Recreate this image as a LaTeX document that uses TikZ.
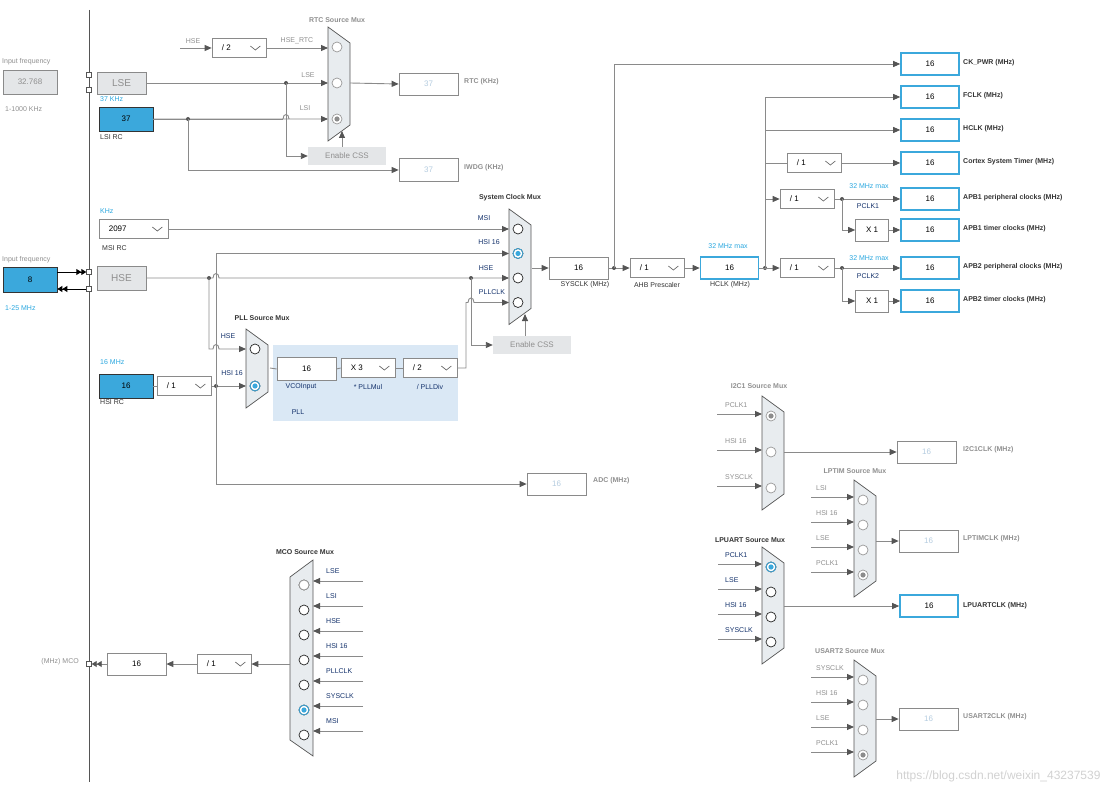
\documentclass[tikz,border=0pt]{standalone}
\usepackage{fontspec}
\setmainfont{Liberation Sans}
\usetikzlibrary{arrows.meta,calc}
\definecolor{wgray}{HTML}{8A8A8A}
\definecolor{agray}{HTML}{555555}
\definecolor{txtgray}{HTML}{8F8F8F}
\definecolor{navy}{HTML}{13316B}
\definecolor{tblue}{HTML}{2AA7DF}
\definecolor{fblue}{HTML}{3BA8DC}
\definecolor{pllbg}{HTML}{DAE8F5}
\definecolor{muxfill}{HTML}{E8ECEF}
\definecolor{boxfill}{HTML}{E4E6E8}
\definecolor{lighttxt}{HTML}{B5CCE0}
\definecolor{dark}{HTML}{333333}
\tikzset{
  wire/.style={draw=wgray, line width=0.9pt},
  arr/.style={wire, -{Triangle[length=7pt,width=6pt,color=agray]}},
  dot/.style={circle, fill=agray, inner sep=0, minimum size=4pt},
  lab/.style={font=\fontsize{7}{8}\selectfont, inner sep=1pt},
  tlab/.style={lab, font=\fontsize{7}{8}\selectfont\bfseries},
  rlab/.style={lab, font=\fontsize{7}{8}\selectfont\bfseries, color=dark, anchor=west},
  bx/.style={draw=wgray, line width=0.7pt, minimum height=22pt, inner sep=0, font=\fontsize{8}{9}\selectfont},
  wbox/.style={bx, fill=white, minimum width=59pt},
  lbox/.style={bx, fill=white, minimum width=59pt, text=lighttxt},
  gbox/.style={bx, fill=boxfill, text=txtgray},
  bbox/.style={bx, draw=dark, fill=fblue, minimum width=54pt, minimum height=24pt},
  outbox/.style={bx, draw=fblue, line width=1.6pt, fill=white, minimum width=58pt},
  cssbox/.style={fill=boxfill, text=txtgray, minimum width=78pt, minimum height=18pt, inner sep=0, font=\fontsize{8}{9}\selectfont},
  ddbox/.style={draw=wgray, line width=0.7pt, fill=white, minimum height=19pt, inner sep=0},
  ddtxt/.style={font=\fontsize{8}{9}\selectfont, inner sep=0},
  chev/.style={draw=agray, line width=0.6pt},
  mux/.style={fill=muxfill, draw=agray, line width=0.7pt},
  rb/.style={circle, draw=black!85, line width=0.7pt, fill=white, minimum size=10pt, inner sep=0},
  rbg/.style={rb, draw=black!40},
  pin/.style={rectangle, draw=agray, fill=white, minimum size=5pt, inner sep=0},
  blk/.style={draw=black, line width=0.9pt}
}
% dropdown box: name, centre, width, text
\newcommand\dd[4]{%
  \node[ddbox, minimum width=#3] (#1) at (#2) {};
  \node[ddtxt, anchor=west] at ([xshift=10pt]#1.west) {#4};
  \draw[chev] ([xshift=-16pt,yshift=2pt]#1.east) -- ++(5,4) -- ++(5,-4);
}
% mux pointing right: name, left x, top y, inputs, pitch, circle style
\newcommand\muxr[6]{%
  \pgfmathsetmacro\mbot{#3+20+(#4-1)*#5+22}
  \filldraw[mux] (#2,#3) -- (#2+22,#3+16) -- (#2+22,\mbot-16) -- (#2,\mbot) -- cycle;
  \coordinate (#1L) at (#2,#3);
  \coordinate (#1R) at (#2+22,#3);
  \foreach \i in {1,...,#4} \node[#6] (#1\i) at (#2+9,#3+20+\i*#5-#5) {};
}
\newcommand\selb[1]{\fill[fblue] (#1) circle (2.6pt); \draw[fblue, line width=0.8pt] (#1) circle (5pt);}
\newcommand\selg[1]{\fill[black!45] (#1) circle (2.6pt);}
\newcommand\hop[2]{-- ++(-3,0) .. controls ++(0,-5) and ++(0,-5) .. ++(6,0)}
\begin{document}
\begin{tikzpicture}[x=1pt,y=-1pt]
\useasboundingbox (0,0) rectangle (1110,794);
% left border line
\draw[draw=agray, line width=0.8pt] (89,10) -- (89,782);

% LSE / LSI inputs
\node[lab, txtgray, anchor=west] at (1,62) {Input frequency};
\node[gbox, minimum width=54pt, minimum height=24pt] (lsefreq) at (30,82) {32.768};
\node[lab, txtgray, anchor=west] at (4,109) {1-1000 KHz};
\node[gbox, minimum width=49pt, font=\fontsize{10}{11}\selectfont] (lse) at (121.5,83) {LSE};
\node[pin] (p1) at (89,75) {};
\node[pin] (p2) at (89,90) {};
\node[lab, tblue, anchor=west] at (99,99) {37 KHz};
\node[bbox] (lsi) at (126,119) {37};
\node[lab, dark, anchor=west] at (99,137) {LSI RC};

% RTC mux
\node[tlab, txtgray] at (337,20) {RTC Source Mux};
\muxr{rtc}{328}{27}{3}{36}{rbg}
\selg{rtc3}
\dd{rtcdiv}{239,48}{54pt}{/ 2}
\coordinate (hsetop) at (180,48);
\draw[arr] (hsetop) -- (rtcdiv.west);
\draw[arr] (rtcdiv.east) -- (rtcdiv.east -| rtcL);
\node[lab, txtgray] at (193,41) {HSE};
\node[lab, txtgray] at (297,41) {HSE\_RTC};
\node[lab, txtgray] at (308,75) {LSE};
\node[lab, txtgray] at (305,108) {LSI};
\draw[arr] (lse.east) -- (lse.east -| rtcL);
\coordinate (lsedot) at (286,83);
\node[dot] at (lsedot) {};
\node[cssbox] (css1) at (347,156) {Enable CSS};
\draw[arr] (lsedot) |- (css1.west);
\draw[arr] (lsi.east) -- (289,119) .. controls ++(0,-6) and ++(0,-6) .. (283,119) (289,119) -- (lsi.east -| rtcL);
\draw[wire] (lsi.east) -- (283,119);
\coordinate (lsidot) at (188,119);
\node[dot] at (lsidot) {};
\node[lbox, minimum height=23pt] (iwdg) at (428.5,170) {37};
\draw[arr] (lsidot) |- (iwdg.west);
\node[lbox] (rtcout) at (428.5,84) {37};
\draw[arr] (rtc2 -| rtcR) -- (rtcout.west);
\draw[arr] (css1.north -| 342,0) -- (342,131);
\node[tlab, txtgray, anchor=west] at (463,82) {RTC (KHz)};
\node[tlab, txtgray, anchor=west] at (463,168) {IWDG (KHz)};

% MSI, HSI, HSE and system clock mux
\node[lab, tblue, anchor=west] at (99,211) {KHz};
\dd{msi}{133.5,229}{69pt}{2097}
\node[lab, dark, anchor=west] at (101,248) {MSI RC};
\node[tlab, dark] at (510,198) {System Clock Mux};
\muxr{sys}{509}{209}{4}{24.5}{rb}
\selb{sys2}
\draw[arr] (msi.east) -- (msi.east -| sysL);
\node[lab, navy] at (484,218) {MSI};
\node[lab, navy] at (489,242) {HSI 16};
\node[lab, navy] at (486,268) {HSE};
\node[lab, navy] at (492,292) {PLLCLK};

\node[lab, txtgray, anchor=west] at (1,260) {Input frequency};
\node[bbox, minimum height=25pt] (hsein) at (30,280) {8};
\node[lab, tblue, anchor=west] at (4,308) {1-25 MHz};
\node[pin] (p3) at (89,272) {};
\node[pin] (p4) at (89,289) {};
\draw[blk, -{Triangle[length=5pt,width=6pt]Triangle[length=5pt,width=6pt]}] (hsein.east |- p3) -- (p3.west);
\draw[blk, -{Triangle[length=5pt,width=6pt]Triangle[length=5pt,width=6pt]}] (p4.west) -- (hsein.east |- p4);
\node[gbox, minimum width=49pt, minimum height=24pt, font=\fontsize{10}{11}\selectfont] (hse) at (121.5,278) {HSE};
\draw[arr] (hse.east) -- (213,278) .. controls ++(0,-6) and ++(0,-6) .. (219,278) -- (hse.east -| sysL);
\coordinate (hsedot) at (209,278);
\coordinate (hsedot2) at (471,278);
\node[dot] at (hsedot) {};
\node[dot] at (hsedot2) {};
\node[cssbox] (css2) at (532,345) {Enable CSS};
\draw[arr] (hsedot2) |- (css2.west);
\draw[arr] (css2.north -| 525,0) -- (525,314);
\coordinate (hsiv) at (216,253.5);
\draw[arr] (hsiv) -- (hsiv -| sysL);

% PLL
\node[tlab, dark] at (262,318) {PLL Source Mux};
\fill[pllbg] (273,345) rectangle (458,421);
\muxr{pll}{246}{329}{2}{37}{rb}
\selb{pll2}
\draw[arr] (hsedot) -- (209,349) -- (213,349) .. controls ++(0,-6) and ++(0,-6) .. (219,349) -- (pll1 -| pllL);
\node[lab, navy] at (228,336) {HSE};
\node[lab, navy] at (232,373) {HSI 16};
\node[lab, tblue, anchor=west] at (99,362) {16 MHz};
\node[bbox] (hsirc) at (126,386) {16};
\node[lab, dark, anchor=west] at (99,402) {HSI RC};
\dd{hsidiv}{184,386}{54pt}{/ 1}
\draw[wire] (hsirc.east) -- (hsidiv.west);
\draw[arr] (hsidiv.east) -- (hsidiv.east -| pllL);
\node[dot] at (216,386) {};
\node[lbox] (adc) at (556.5,484) {16};
\draw[arr] (hsiv) |- (adc.west);
\node[tlab, txtgray, anchor=west] at (592,481) {ADC (MHz)};
\coordinate (pllo) at (270,368);
\node[wbox, minimum height=23pt] (vco) at (306.5,369) {16};
\dd{pllmul}{368,368}{54pt}{X 3}
\dd{plldiv}{430,368}{54pt}{/ 2}
\draw[wire] (pllo) -- (vco.west);
\draw[wire] (vco.east) -- (pllmul.west);
\draw[wire] (pllmul.east) -- (plldiv.west);
\draw[arr] (plldiv.east) -| (466,302.5) -- (468,302.5) .. controls ++(0,-6) and ++(0,-6) .. (474,302.5) -- (sys4 -| sysL);
\node[lab, navy] at (301,387) {VCOInput};
\node[lab, navy] at (368,387) {* PLLMul};
\node[lab, navy] at (430,387) {/ PLLDiv};
\node[lab, navy] at (298,412) {PLL};

% SYSCLK, AHB and bus clocks
\coordinate (syso) at (532,268);
\node[wbox] (sysclk) at (578.5,268) {16};
\draw[arr] (syso) -- (sysclk.west);
\node[lab, dark] at (585,285) {SYSCLK (MHz)};
\dd{ahb}{657,268}{54pt}{/ 1}
\node[lab, dark] at (657,285) {AHB Prescaler};
\node[outbox] (hclk) at (729.5,268) {16};
\node[lab, dark] at (730,285) {HCLK (MHz)};
\node[lab, tblue] at (728,246) {32 MHz max};
\draw[arr] (sysclk.east) -- (ahb.west);
\draw[arr] (ahb.east) -- (hclk.west);
\foreach \n/\y/\t in {ckpwr/64/CK\_PWR (MHz), fclk/97/FCLK (MHz), hclko/130/HCLK (MHz),
  ctout/163/Cortex System Timer (MHz), apbao/199/APB1 peripheral clocks (MHz),
  apbat/230/APB1 timer clocks (MHz), apbbo/268/APB2 peripheral clocks (MHz),
  apbbt/301/APB2 timer clocks (MHz)}{
  \node[outbox] (\n) at (930,\y) {16};
  \node[rlab] at (962,\y-1) {\t};
}
\coordinate (sysdot) at (614,268);
\node[dot] at (sysdot) {};
\draw[arr] (sysdot) |- (ckpwr.west);
\coordinate (hdot) at (765,268);
\node[dot] at (hdot) {};
\draw[arr] (hdot) |- (fclk.west);
\draw[arr] (hdot |- hclko) -- (hclko.west);
\dd{ctdiv}{814,163}{54pt}{/ 1}
\draw[wire] (hdot |- ctdiv) -- (ctdiv.west);
\draw[arr] (ctdiv.east) -- (ctout.west);
\dd{apba}{807,199}{54pt}{/ 1}
\dd{apbb}{807,268}{54pt}{/ 1}
\draw[arr] (hdot |- apba) -- (apba.west);
\draw[arr] (hclk.east) -- (apbb.west);
\draw[arr] (apba.east) -- (apbao.west);
\draw[arr] (apbb.east) -- (apbbo.west);
\node[bx, fill=white, minimum width=33pt] (x1a) at (872,230) {X 1};
\node[bx, fill=white, minimum width=33pt] (x1b) at (872,301) {X 1};
\coordinate (adot) at (842,199);
\coordinate (bdot) at (842,268);
\node[dot] at (adot) {};
\node[dot] at (bdot) {};
\draw[arr] (adot) |- (x1a.west);
\draw[arr] (bdot) |- (x1b.west);
\draw[arr] (x1a.east) -- (apbat.west);
\draw[arr] (x1b.east) -- (apbbt.west);
\node[lab, tblue] at (869,186) {32 MHz max};
\node[lab, navy] at (868,206) {PCLK1};
\node[lab, tblue] at (869,258) {32 MHz max};
\node[lab, navy] at (868,276) {PCLK2};

% peripheral muxes
\node[tlab, txtgray] at (759,386) {I2C1 Source Mux};
\muxr{i2c}{762}{396}{3}{36}{rbg}
\selg{i2c1}
\node[lbox] (i2cout) at (926.5,452) {16};
\draw[arr] (i2c2 -| i2cR) -- (i2cout.west);
\node[tlab, txtgray, anchor=west] at (962,450) {I2C1CLK (MHz)};
\foreach \i/\t in {1/PCLK1, 2/HSI 16, 3/SYSCLK}{
  \draw[arr] ([yshift=2pt]i2c\i -| 717,0) -- ([yshift=2pt]i2c\i -| i2cL);
  \node[lab, txtgray, anchor=west] at ([yshift=11pt]i2c\i -| 724,0) {\t};
}

\node[tlab, txtgray] at (855,471) {LPTIM Source Mux};
\muxr{lptim}{854}{480}{4}{25}{rbg}
\selg{lptim4}
\node[lbox] (lptimout) at (928.5,541) {16};
\draw[arr] (lptimout.west -| lptimR) -- (lptimout.west);
\node[tlab, txtgray, anchor=west] at (962,539) {LPTIMCLK (MHz)};
\foreach \i/\t in {1/LSI, 2/HSI 16, 3/LSE, 4/PCLK1}{
  \draw[arr] ([yshift=3pt]lptim\i -| 811,0) -- ([yshift=3pt]lptim\i -| lptimL);
  \node[lab, txtgray, anchor=west] at ([yshift=12pt]lptim\i -| 815,0) {\t};
}

\node[tlab, dark] at (750,540) {LPUART Source Mux};
\muxr{lpuart}{762}{547}{4}{25}{rb}
\selb{lpuart1}
\node[outbox] (lpuartout) at (929,606) {16};
\draw[arr] (lpuartout.west -| lpuartR) -- (lpuartout.west);
\node[rlab] at (962,606) {LPUARTCLK (MHz)};
\foreach \i/\t in {1/PCLK1, 2/LSE, 3/HSI 16, 4/SYSCLK}{
  \draw[arr] ([yshift=3pt]lpuart\i -| 718,0) -- ([yshift=3pt]lpuart\i -| lpuartL);
  \node[lab, navy, anchor=west] at ([yshift=12pt]lpuart\i -| 724,0) {\t};
}

\node[tlab, txtgray] at (850,651) {USART2 Source Mux};
\muxr{usart}{854}{660}{4}{25}{rbg}
\selg{usart4}
\node[lbox] (usartout) at (928.5,719) {16};
\draw[arr] (usartout.west -| usartR) -- (usartout.west);
\node[tlab, txtgray, anchor=west] at (962,717) {USART2CLK (MHz)};
\foreach \i/\t in {1/SYSCLK, 2/HSI 16, 3/LSE, 4/PCLK1}{
  \draw[arr] ([yshift=3pt]usart\i -| 811,0) -- ([yshift=3pt]usart\i -| usartL);
  \node[lab, txtgray, anchor=west] at ([yshift=12pt]usart\i -| 815,0) {\t};
}

% MCO output
\node[tlab, dark] at (305,552) {MCO Source Mux};
\filldraw[mux] (313,560) -- (313,756) -- (290,740) -- (290,577) -- cycle;
\coordinate (mcoR) at (313,560);
\coordinate (mcoL) at (290,664);
\foreach \i/\t in {1/LSE, 2/LSI, 3/HSE, 4/HSI 16, 5/PLLCLK, 6/SYSCLK, 7/MSI}{
  \node[rb] (mco\i) at (304,560+\i*25) {};
  \draw[arr] ([yshift=4pt]mco\i -| 363,0) -- ([yshift=4pt]mco\i -| mcoR);
  \node[lab, navy, anchor=west] at ([yshift=14pt]mco\i -| 325,0) {\t};
}
\node[rbg] at (mco1) {};
\selb{mco6}
\dd{mcodiv}{224,664}{54pt}{/ 1}
\node[wbox] (mcobox) at (136.5,664) {16};
\node[pin] (pmco) at (89,664) {};
\draw[arr] (mcoL) -- (mcodiv.east);
\draw[arr] (mcodiv.west) -- (mcobox.east);
\draw[wire, -{Triangle[length=5pt,width=6pt,color=agray]Triangle[length=5pt,width=6pt,color=agray]}] (mcobox.west) -- (pmco.east);
\node[lab, txtgray, anchor=east] at (80,662) {(MHz) MCO};

\node[font=\fontsize{12}{13}\selectfont, color=black!18, anchor=east] at (1104,776) {https://blog.csdn.net/weixin\_43237539};
\end{tikzpicture}
\end{document}
